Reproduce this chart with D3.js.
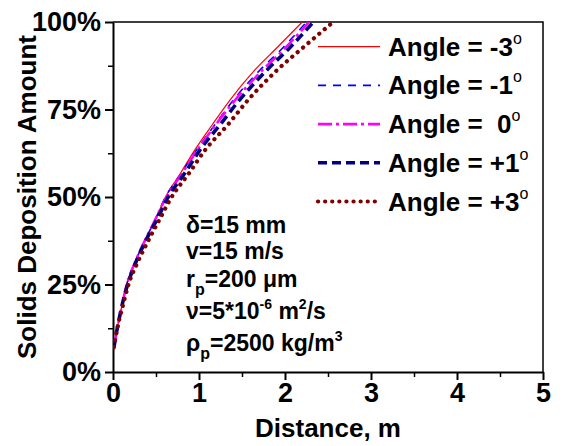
<!DOCTYPE html>
<html>
<head>
<meta charset="utf-8">
<script src="https://cdn.jsdelivr.net/npm/d3@7"></script>
<style>
  body { margin: 0; background: #fff; }
  text { font-family: "Liberation Sans", Arial, sans-serif; font-weight: bold; fill: #000; }
  .axis path, .axis line { stroke: #000; }
</style>
</head>
<body>
<div id="chart"></div>
<script>
// deposition amount (%) levels
var levels = [7, 12.5, 18.5, 25, 31, 37.5, 44, 49.5, 57, 63.4, 70.5, 77.7, 86.3, 92.5, 100];

// distance (m) at which each curve reaches the level above
var xMinus3 = [0.01, 0.05, 0.10, 0.16, 0.25, 0.37, 0.50, 0.60, 0.79, 0.95, 1.15, 1.36, 1.65, 1.90, 2.20];
var xMinus1 = [0.01, 0.05, 0.10, 0.16, 0.25, 0.37, 0.50, 0.60, 0.80, 0.97, 1.18, 1.40, 1.71, 1.97, 2.25];
var xZero   = [0.01, 0.05, 0.10, 0.16, 0.25, 0.37, 0.50, 0.61, 0.81, 0.98, 1.19, 1.42, 1.74, 2.00, 2.28];
var xPlus1  = [0.01, 0.05, 0.10, 0.17, 0.26, 0.38, 0.52, 0.63, 0.84, 1.01, 1.24, 1.47, 1.79, 2.05, 2.33];
var xPlus3  = [0.01, 0.05, 0.11, 0.18, 0.28, 0.41, 0.55, 0.67, 0.89, 1.07, 1.33, 1.57, 1.91, 2.20, 2.56];

var angleLabels = ["-3", "-1", "\u00a00", "+1", "+3"];
var xTicks = [0, 1, 2, 3, 4, 5];
var yTicks = [0, 25, 50, 75, 100];

var series = [
  { name: angleLabels[0], xs: xMinus3, color: "#ff0000", width: 1.2, dash: null, cap: "butt" },
  { name: angleLabels[1], xs: xMinus1, color: "#0000ff", width: 1.6, dash: "8,7", cap: "butt" },
  { name: angleLabels[2], xs: xZero,   color: "#ff00ff", width: 2.6, dash: "14,4,3,4", cap: "butt" },
  { name: angleLabels[3], xs: xPlus1,  color: "#000080", width: 3.6, dash: "9,5", cap: "butt" },
  { name: angleLabels[4], xs: xPlus3,  color: "#800000", width: 4.2, dash: "0.1,7", cap: "round" }
];

var margin = { top: 22, right: 20, bottom: 74, left: 113 };
var width = 563 - margin.left - margin.right;
var height = 446 - margin.top - margin.bottom;

var svg = d3.select("#chart").append("svg")
  .attr("width", 563)
  .attr("height", 446)
  .append("g")
    .attr("transform", "translate(" + margin.left + "," + margin.top + ")");

var x = d3.scaleLinear().domain([0, 5]).range([0, width]);
var y = d3.scaleLinear().domain([0, 100]).range([height, 0]);

svg.append("clipPath").attr("id", "clip")
  .append("rect").attr("width", width).attr("height", height);

// frame top / right
svg.append("path")
  .attr("d", "M0,0H" + width + "V" + height)
  .attr("fill", "none").attr("stroke", "#000").attr("stroke-width", 1.5);

// minor ticks
svg.append("g")
  .attr("class", "axis")
  .attr("transform", "translate(0," + height + ")")
  .call(d3.axisBottom(x).tickValues(d3.range(0.5, 5, 1)).tickSize(5).tickFormat(""))
  .call(function(g) { g.select(".domain").remove(); })
  .selectAll("line").attr("stroke-width", 1.5);

svg.append("g")
  .attr("class", "axis")
  .call(d3.axisLeft(y).tickValues(d3.range(12.5, 100, 25)).tickSize(5).tickFormat(""))
  .call(function(g) { g.select(".domain").remove(); })
  .selectAll("line").attr("stroke-width", 1.5);

// major axes
var xAxis = svg.append("g")
  .attr("class", "axis")
  .attr("transform", "translate(0," + height + ")")
  .call(d3.axisBottom(x).tickValues(xTicks).tickSize(8).tickSizeOuter(0).tickPadding(3).tickFormat(d3.format("d")));
xAxis.select(".domain").attr("stroke-width", 2);
xAxis.selectAll("line").attr("stroke-width", 2);
xAxis.selectAll("text").style("font-size", "27px").attr("fill", "#000");

var yAxis = svg.append("g")
  .attr("class", "axis")
  .call(d3.axisLeft(y).tickValues(yTicks).tickSize(8).tickSizeOuter(0).tickPadding(4).tickFormat(function(d) { return d + "%"; }));
yAxis.select(".domain").attr("stroke-width", 2);
yAxis.selectAll("line").attr("stroke-width", 2);
yAxis.selectAll("text").style("font-size", "27px").attr("fill", "#000");

// axis titles
svg.append("text")
  .attr("x", width / 2).attr("y", 437 - margin.top)
  .attr("text-anchor", "middle")
  .style("font-size", "26px")
  .text("Distance, m");

svg.append("text")
  .attr("transform", "translate(" + (36 - margin.left) + "," + (197 - margin.top) + ") rotate(-90)")
  .attr("text-anchor", "middle")
  .style("font-size", "26px")
  .text("Solids Deposition Amount");

// curves
var line = d3.line()
  .x(function(d) { return x(d[0]); })
  .y(function(d) { return y(d[1]); })
  .curve(d3.curveMonotoneX);

var curves = svg.append("g").attr("clip-path", "url(#clip)");
series.forEach(function(s) {
  var pts = s.xs.map(function(v, i) { return [v, levels[i]]; });
  curves.append("path")
    .datum(pts)
    .attr("d", line)
    .attr("fill", "none")
    .attr("stroke", s.color)
    .attr("stroke-width", s.width)
    .attr("stroke-dasharray", s.dash)
    .attr("stroke-linecap", s.cap);
});

// legend
var legend = svg.append("g").attr("transform", "translate(" + (318 - margin.left) + "," + (46.7 - margin.top) + ")");
series.forEach(function(s, i) {
  var row = legend.append("g").attr("transform", "translate(0," + (i * 38.7) + ")");
  row.append("line")
    .attr("x1", 0).attr("x2", 62)
    .attr("stroke", s.color)
    .attr("stroke-width", s.width)
    .attr("stroke-dasharray", s.dash)
    .attr("stroke-linecap", s.cap);
  var t = row.append("text")
    .attr("x", 70).attr("y", 9)
    .style("font-size", "26px")
    .attr("xml:space", "preserve");
  t.append("tspan").text("Angle = " + s.name);
  t.append("tspan").attr("dy", -12).style("font-size", "16px").style("font-weight", "normal").text("o");
});

// conditions annotation
var notes = svg.append("g").attr("transform", "translate(" + (186 - margin.left) + ",0)");
var noteSize = "23px";

function note(yPos) {
  return notes.append("text").attr("x", 0).attr("y", yPos - margin.top).style("font-size", noteSize);
}

note(233).text("\u03b4=15 mm");
note(259).text("v=15 m/s");

var t3 = note(287);
t3.append("tspan").text("r");
t3.append("tspan").attr("dy", 8).style("font-size", "16px").text("p");
t3.append("tspan").attr("dy", -8).text("=200 \u03bcm");

var t4 = note(319);
t4.append("tspan").text("\u03bd=5*10");
t4.append("tspan").attr("dy", -10).style("font-size", "14px").text("-6");
t4.append("tspan").attr("dy", 10).text(" m");
t4.append("tspan").attr("dy", -10).style("font-size", "14px").text("2");
t4.append("tspan").attr("dy", 10).text("/s");

var t5 = note(351);
t5.append("tspan").text("\u03c1");
t5.append("tspan").attr("dy", 8).style("font-size", "16px").text("p");
t5.append("tspan").attr("dy", -8).text("=2500 kg/m");
t5.append("tspan").attr("dy", -10).style("font-size", "14px").text("3");
</script>
</body>
</html>
